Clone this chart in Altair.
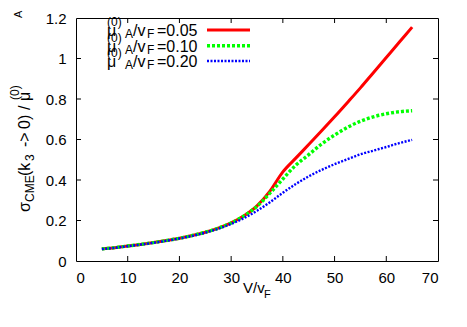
import altair as alt
import pandas as pd

# ---- data ----
x_vals = [5, 7.5, 10, 12.5, 15, 17.5, 20, 22.5, 25, 27.5, 30, 32.5, 35, 37.5,
          40, 42.5, 45, 47.5, 50, 52.5, 55, 57.5, 60, 62.5, 65]
red = [0.060, 0.066, 0.074, 0.082, 0.091, 0.101, 0.112, 0.126, 0.142, 0.162,
       0.188, 0.223, 0.272, 0.345, 0.440, 0.508, 0.575, 0.643, 0.712, 0.783,
       0.855, 0.930, 1.005, 1.080, 1.155]
green = [0.060, 0.066, 0.074, 0.082, 0.091, 0.101, 0.112, 0.126, 0.142, 0.162,
         0.188, 0.223, 0.270, 0.335, 0.405, 0.473, 0.525, 0.578, 0.622, 0.660,
         0.690, 0.712, 0.727, 0.737, 0.742]
blue = [0.059, 0.065, 0.073, 0.081, 0.090, 0.100, 0.111, 0.124, 0.140, 0.159,
        0.183, 0.212, 0.248, 0.290, 0.337, 0.380, 0.418, 0.450, 0.478, 0.503,
        0.527, 0.545, 0.563, 0.582, 0.598]
series = ["0.05", "0.10", "0.20"]
colors = ["#ff0000", "#00ff00", "#0000ff"]
x_ticks = [0, 10, 20, 30, 40, 50, 60, 70]
y_ticks = [0, 0.2, 0.4, 0.6, 0.8, 1.0, 1.2]

rows = []
for name, ys in zip(series, [red, green, blue]):
    for xv, yv in zip(x_vals, ys):
        rows.append({"V": xv, "s": yv, "k": name})
df = pd.DataFrame(rows)

FONT = "Liberation Sans"
W, H = 362, 243
xs = alt.Scale(domain=[0, 70], nice=False, zero=False)
ys_ = alt.Scale(domain=[0, 1.2], nice=False, zero=False)

styles = {
    "0.05": dict(strokeWidth=3.0),
    "0.10": dict(strokeWidth=3.4, strokeDash=[3, 2]),
    "0.20": dict(strokeWidth=2.4, strokeDash=[2, 1.5]),
}

x_axis = alt.Axis(values=x_ticks, domain=False, ticks=False, tickSize=0,
                  grid=False, labelFont=FONT, labelFontSize=15,
                  labelColor="black", labelPadding=9, title=None)
y_axis = alt.Axis(values=y_ticks, format=".1~f", domain=False, ticks=False,
                  tickSize=0, grid=False, labelFont=FONT, labelFontSize=15,
                  labelColor="black", labelPadding=10, title=None)

layers = []
for i, (name, col) in enumerate(zip(series, colors)):
    if i == 0:
        xe = alt.X("V:Q", scale=xs, axis=x_axis, title=None)
        ye = alt.Y("s:Q", scale=ys_, axis=y_axis, title=None)
    else:
        xe = alt.X("V:Q", scale=xs, title=None)
        ye = alt.Y("s:Q", scale=ys_, title=None)
    layers.append(
        alt.Chart(df[df.k == name]).mark_line(
            color=col, interpolate="monotone", **styles[name]).encode(x=xe, y=ye)
    )

# inward ticks on all four sides
xt = pd.DataFrame({"t": x_ticks[1:-1]})
yt = pd.DataFrame({"t": y_ticks[1:-1]})
tick_len = 5
layers.append(alt.Chart(xt).mark_rule(color="black").encode(
    x=alt.X("t:Q", scale=xs, title=None), y=alt.value(H), y2=alt.value(H - tick_len)))
layers.append(alt.Chart(xt).mark_rule(color="black").encode(
    x=alt.X("t:Q", scale=xs, title=None), y=alt.value(0), y2=alt.value(tick_len)))
layers.append(alt.Chart(yt).mark_rule(color="black").encode(
    y=alt.Y("t:Q", scale=ys_, title=None), x=alt.value(0), x2=alt.value(tick_len)))
layers.append(alt.Chart(yt).mark_rule(color="black").encode(
    y=alt.Y("t:Q", scale=ys_, title=None), x=alt.value(W), x2=alt.value(W - tick_len)))


def txt(s, x, y, size=15, angle=0):
    kw = dict(align="left", baseline="alphabetic", font=FONT, fontSize=size,
              color="black")
    if angle:
        kw["angle"] = angle
    return alt.Chart(alt.Data(values=[{"t": s}])).mark_text(**kw).encode(
        text="t:N", x=alt.value(x), y=alt.value(y))


# legend
row_base = [18, 33.5, 49]
line_y = [12, 27.7, 43]
for name, col, b, ly in zip(series, colors, row_base, line_y):
    layers += [
        txt("μ", 31, b, 16),
        txt("(0)", 31, b - 10, 12),
        txt("A", 49, b + 2, 12),
        txt("/v", 57, b, 16),
        txt("F", 71, b + 2, 12),
        txt("=" + name, 81, b, 16),
    ]
    layers.append(alt.Chart(alt.Data(values=[{"a": 1}])).mark_rule(
        color=col, **styles[name]).encode(
        x=alt.value(131), x2=alt.value(174), y=alt.value(ly)))

# x title  V/v_F
layers += [txt("V/v", 167, 275), txt("F", 188, 280, 11)]

# y title  σ_CME(k_3 -> 0)/μ^(0)_A  (rotated)
yb, ysub, ysup = -46, -42.5, -57
layers += [
    txt("σ", yb, 194, 16, 270),
    txt("CME", ysub, 184, 12, 270),
    txt("(k", yb, 158, 16, 270),
    txt("3", ysub, 143, 12, 270),
    txt("->", yb, 129, 16, 270),
    txt("0)", yb, 111, 16, 270),
    txt("/", yb, 92, 16, 270),
    txt("μ", yb, 83, 16, 270),
    txt("(0)", ysup, 82, 12, 270),
    txt("A", -54, 0, 11, 270),
]

chart = alt.layer(*layers).properties(
    width=W, height=H,
    autosize=alt.AutoSizeParams(type="none"),
    padding={"left": 68, "top": 10, "right": 21, "bottom": 48},
    background="white",
).configure_view(stroke="black", strokeWidth=1)

chart.save("out.html", embed_options={"renderer": "svg", "actions": False})
